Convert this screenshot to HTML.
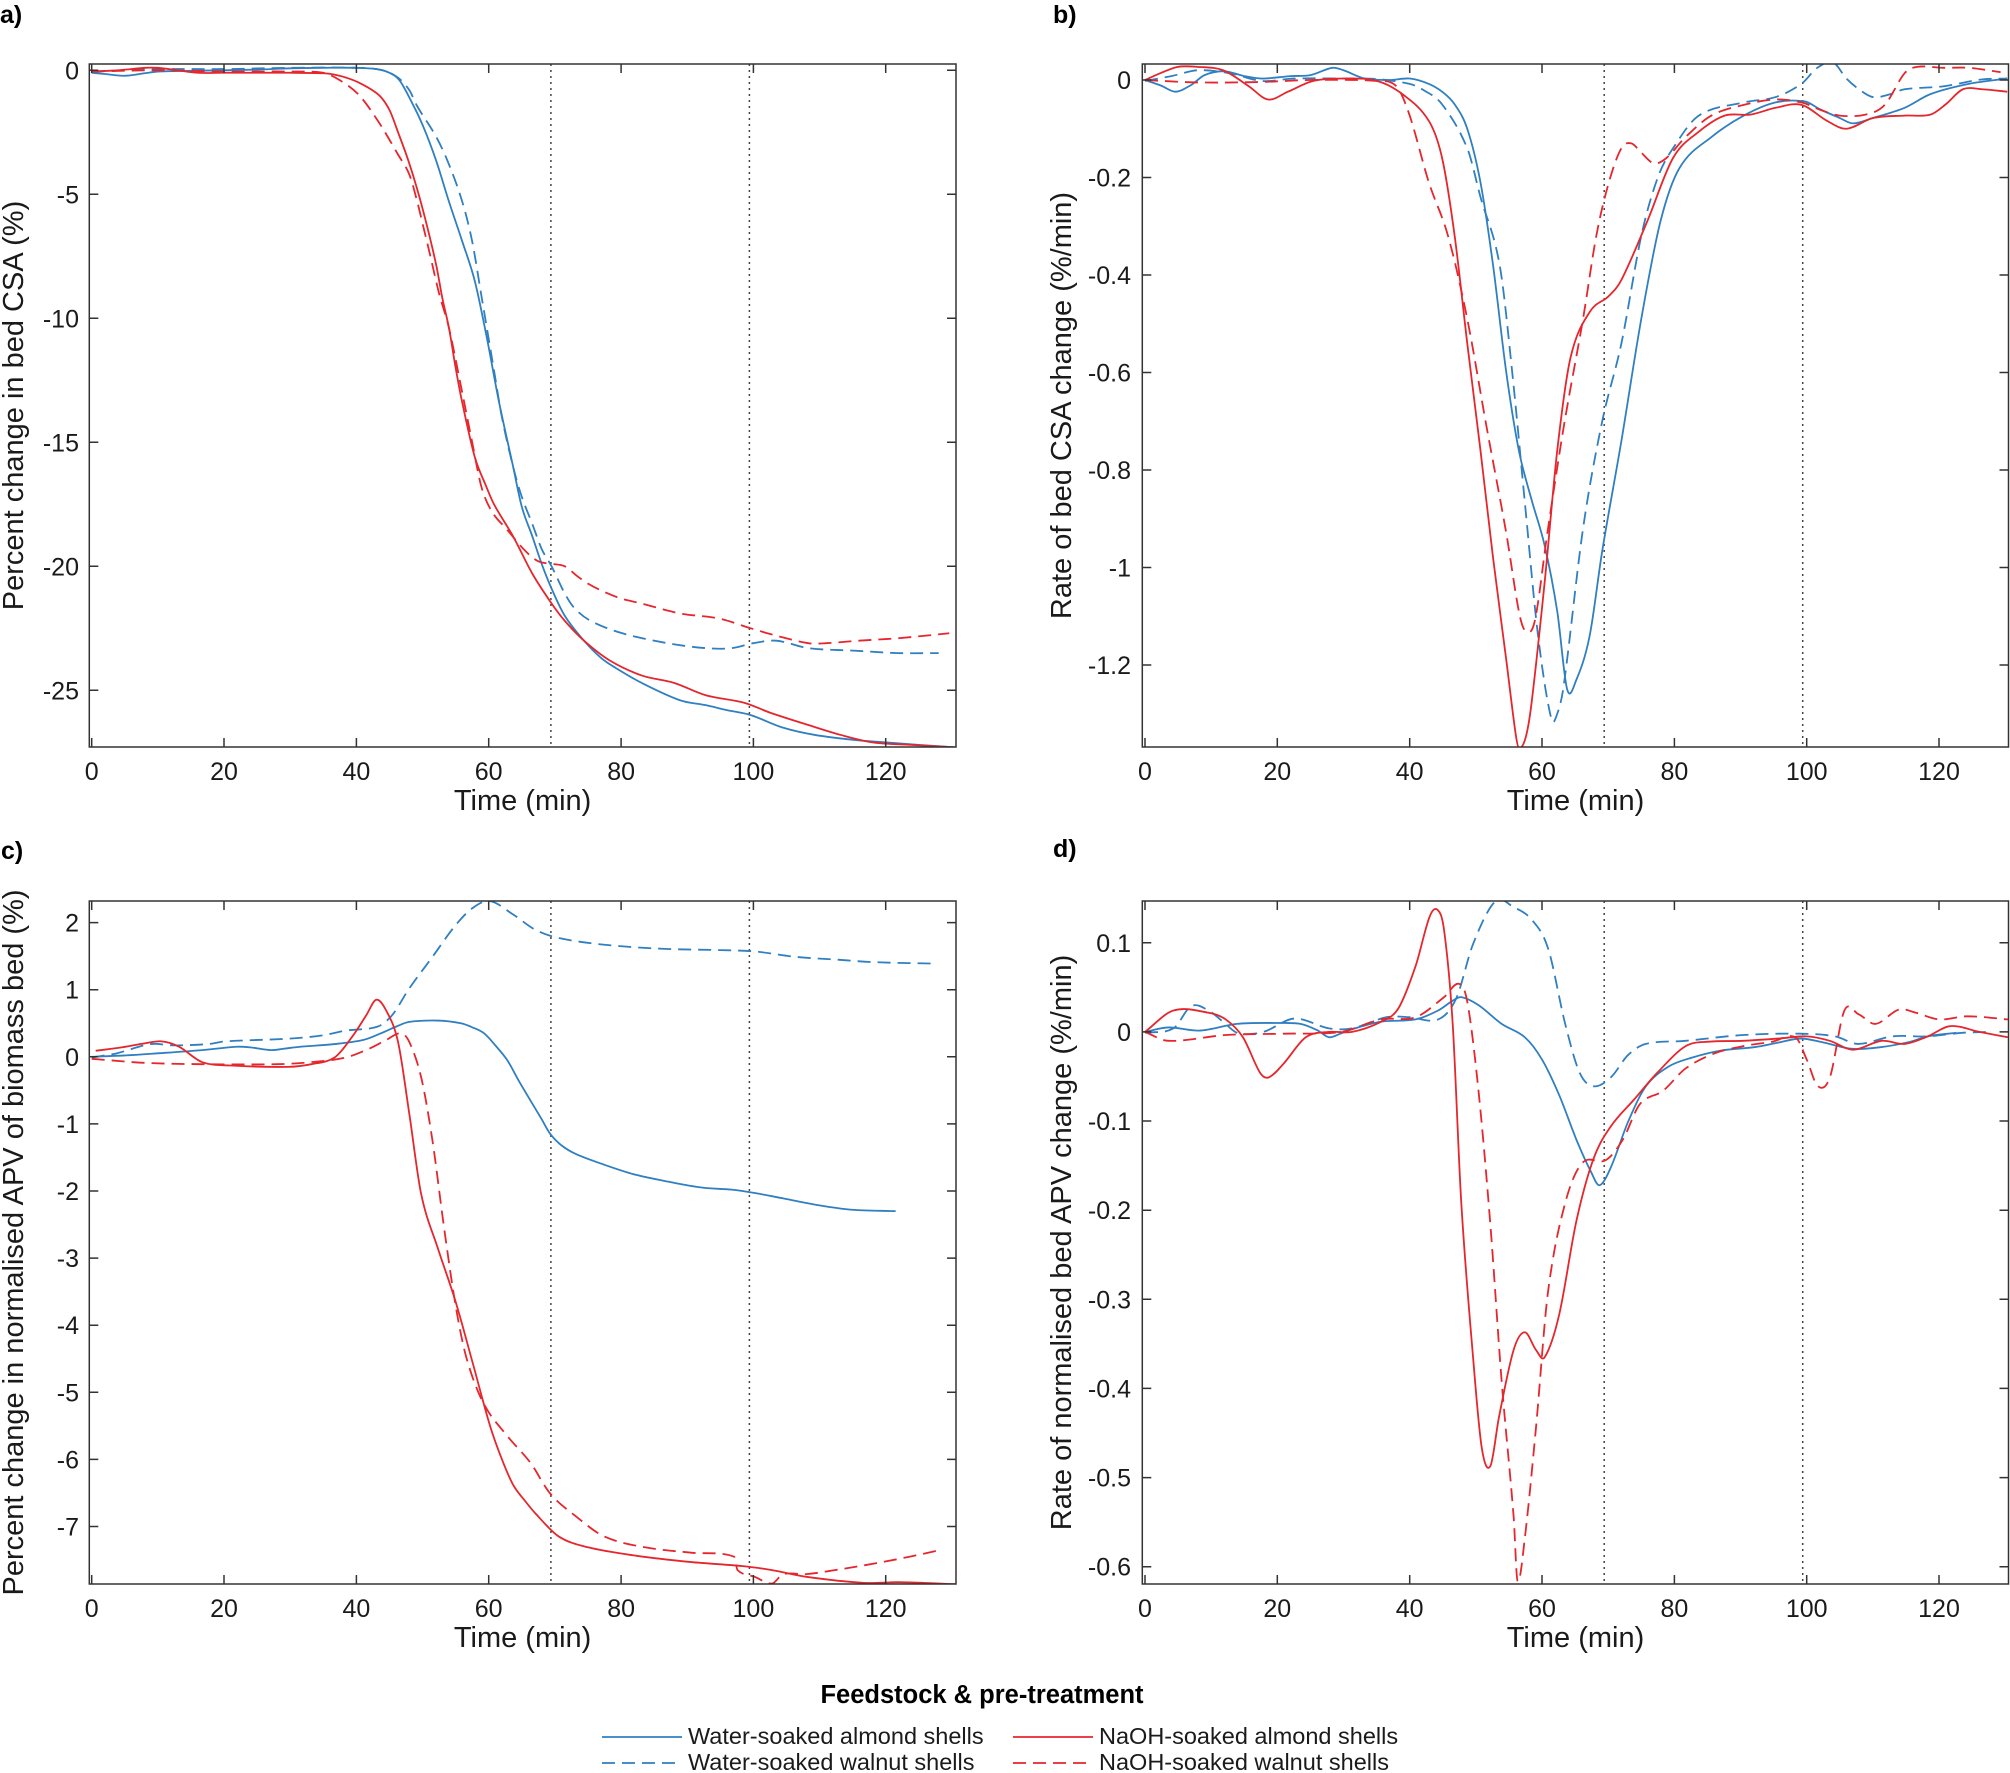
<!DOCTYPE html>
<html>
<head>
<meta charset="utf-8">
<style>
html,body{margin:0;padding:0;background:#fff;}
svg{display:block;}
text{font-family:"Liberation Sans",Arial,Helvetica,sans-serif;fill:#1a1a1a;}
.tk{font-size:25px;}
.lab{font-size:29px;}
.pl{font-size:25px;font-weight:bold;fill:#000;}
.ax{fill:none;stroke:#333;stroke-width:1.5;}
.dot{stroke:#444;stroke-width:1.5;stroke-dasharray:2 4;fill:none;}
.s{fill:none;stroke-width:1.8;vector-effect:non-scaling-stroke;stroke-linejoin:round;stroke-linecap:butt;}
.b{stroke:#2f7fc1;}
.r{stroke:#e5262c;}
.d{stroke-dasharray:13 7;}
.leg{font-size:23.5px;}
</style>
</head>
<body>
<svg id="fig" width="2010" height="1773" viewBox="0 0 2010 1773" xmlns="http://www.w3.org/2000/svg">
<defs>
<clipPath id="ca"><rect x="89.3" y="64" width="866.7" height="683"/></clipPath>
<clipPath id="cb"><rect x="1142.3" y="64" width="866.2" height="683"/></clipPath>
<clipPath id="cc"><rect x="89.3" y="901" width="866.7" height="683"/></clipPath>
<clipPath id="cd"><rect x="1142.3" y="901" width="866.2" height="683"/></clipPath>
</defs>

<!-- panel labels -->
<text class="pl" x="0" y="23">a)</text>
<text class="pl" x="1053" y="23">b)</text>
<text class="pl" x="1" y="859">c)</text>
<text class="pl" x="1053" y="857">d)</text>

<!-- ================= PANEL A ================= -->
<line class="dot" x1="550.9" y1="64" x2="550.9" y2="747"/>
<line class="dot" x1="749.4" y1="64" x2="749.4" y2="747"/>
<g clip-path="url(#ca)">
<g transform="translate(91.7,70.3) scale(6.617,-24.8)">
<polyline class="s b" points="0,-0.1 2,-0.15 5,-0.22 8,-0.12 10,-0.05 15,-0.02 20,0 25,0.03 30,0.08 35,0.1 40,0.1 43,0.05 45,-0.1 46.5,-0.4 48.2,-1.2 50,-2.2 52,-3.6 54,-5.3 56,-6.9 57.9,-8.5 59.8,-10.9 61.5,-13.3 63.7,-16 65,-17.6 66.6,-18.8 68,-19.9 69.5,-20.9 71.5,-22 74.4,-23 77,-23.7 79.2,-24.1 83.1,-24.7 88.9,-25.4 92.8,-25.6 96,-25.8 99.6,-26 104.4,-26.5 109.3,-26.8 115.1,-27 120,-27.1 125,-27.2 130.6,-27.3"/>
<polyline class="s b d" points="0,-0.05 5,0 10,0.05 20,0.05 30,0.1 40,0.1 44,0 46.3,-0.3 48,-0.8 49.2,-1.45 52.1,-2.7 54,-3.8 56,-5.3 57.5,-6.9 58.9,-9.1 60.8,-12.1 62,-14 63.7,-16 65,-17.2 66.6,-18.3 68,-19.3 69.5,-20 71.5,-21.1 73,-21.7 75.4,-22.2 80.2,-22.7 87,-23.1 92.8,-23.3 96.7,-23.3 100,-23.1 103.5,-23 108.3,-23.3 115.1,-23.4 121.9,-23.5 128,-23.5"/>
<polyline class="s r" points="0,-0.05 4,0 8,0.1 10,0.1 13,0 16,-0.1 20,-0.1 30,-0.1 35,-0.12 36.6,-0.17 38.5,-0.3 40.4,-0.5 43.4,-1 45,-1.6 46.3,-2.5 47.8,-3.6 49.2,-4.8 50.7,-6.3 52.1,-7.9 53,-9.2 54,-10.4 55,-12 56,-13.4 57.9,-15.6 59.5,-16.7 60.8,-17.5 63.7,-18.8 66.6,-20.3 69.5,-21.5 71.5,-22.2 74.4,-23 78.3,-23.8 83.1,-24.4 88,-24.7 92.8,-25.2 98.6,-25.5 102.5,-25.9 108.3,-26.4 113.2,-26.8 118,-27.1 123.8,-27.2 130.6,-27.3"/>
<polyline class="s r d" points="0,-0.05 10,0 20,-0.05 30,-0.05 35,-0.1 37.5,-0.4 40.4,-1 43.4,-2.1 46.3,-3.4 48,-4.2 49.2,-5.3 50.2,-6.4 51.1,-7.4 52.5,-9 54,-10.4 56,-13 57.5,-15 58.9,-16.8 60.5,-17.8 62.7,-18.5 65.6,-19.4 67.5,-19.8 69.5,-19.9 71.5,-20 73.4,-20.4 75,-20.7 77.2,-21 80,-21.3 83.1,-21.5 88.9,-21.9 94.7,-22.1 99.6,-22.5 103.5,-22.8 108.3,-23.1 111,-23.1 115.9,-23 121.9,-22.9 129.6,-22.7"/>
</g></g>
<rect class="ax" x="89.3" y="64" width="866.7" height="683"/>
<path class="ax" d="M91.7 747v-9M224 747v-9M356.4 747v-9M488.7 747v-9M621.1 747v-9M753.4 747v-9M885.7 747v-9M91.7 64v9M224 64v9M356.4 64v9M488.7 64v9M621.1 64v9M753.4 64v9M885.7 64v9M89.3 70.3h9M89.3 194.3h9M89.3 318.3h9M89.3 442.3h9M89.3 566.3h9M89.3 690.3h9M956 70.3h-9M956 194.3h-9M956 318.3h-9M956 442.3h-9M956 566.3h-9M956 690.3h-9"/>
<g class="tk" text-anchor="end">
<text x="79" y="79.3">0</text>
<text x="79" y="203.3">-5</text>
<text x="79" y="327.3">-10</text>
<text x="79" y="451.3">-15</text>
<text x="79" y="575.3">-20</text>
<text x="79" y="699.3">-25</text>
</g>
<g class="tk" text-anchor="middle">
<text x="91.7" y="780">0</text>
<text x="224" y="780">20</text>
<text x="356.4" y="780">40</text>
<text x="488.7" y="780">60</text>
<text x="621.1" y="780">80</text>
<text x="753.4" y="780">100</text>
<text x="885.7" y="780">120</text>
</g>
<text class="lab" x="522.6" y="810" text-anchor="middle">Time (min)</text>
<text class="lab" transform="translate(23,405.5) rotate(-90)" text-anchor="middle">Percent change in bed CSA (%)</text>

<!-- ================= PANEL B ================= -->
<line class="dot" x1="1604.2" y1="64" x2="1604.2" y2="747"/>
<line class="dot" x1="1802.7" y1="64" x2="1802.7" y2="747"/>
<g clip-path="url(#cb)">
<g transform="translate(1145,80) scale(6.617,-487.5)">
<polyline class="s b" points="0,0 2.5,-0.012 4.6,-0.024 7,-0.01 9,0.01 12,0.018 15,0.008 17.7,0.003 22,0.008 25,0.01 28.3,0.025 30,0.02 33.2,0.003 37,0 40,0.003 42.9,-0.008 45,-0.025 46.8,-0.05 48.7,-0.1 50.7,-0.21 52.6,-0.38 54.6,-0.6 56.5,-0.76 58.4,-0.86 60.4,-0.955 62.3,-1.09 63.8,-1.25 65.2,-1.23 67.2,-1.14 69.1,-0.966 72,-0.74 75,-0.49 77.9,-0.29 80.8,-0.18 85.6,-0.117 90.5,-0.073 95.3,-0.046 99.7,-0.044 102,-0.06 105,-0.078 107,-0.089 110,-0.078 114.8,-0.057 118.7,-0.029 124.5,-0.008 130.3,0.003"/>
<polyline class="s b d" points="0,-0.002 4,0.008 8,0.02 12.8,0.014 17.7,-0.002 22.5,0.003 30,0.003 35,0.002 40,-0.008 42,-0.02 44.9,-0.05 48.7,-0.14 50.7,-0.24 53.6,-0.38 55.5,-0.6 57.5,-0.88 59.4,-1.14 61.4,-1.31 62.3,-1.3 63.3,-1.24 66.2,-0.92 69.1,-0.7 72,-0.54 75,-0.32 77.5,-0.2 79.8,-0.14 83.7,-0.073 90.5,-0.046 95.3,-0.035 99.2,-0.008 101.6,0.025 104,0.036 106,0.003 108,-0.02 110,-0.035 112.4,-0.03 114.8,-0.019 120.6,-0.013 126.4,0.001 130.3,0.003"/>
<polyline class="s r" points="0,0 2.5,0.015 5,0.027 7.9,0.027 11.8,0.02 15.7,-0.013 18.6,-0.04 21.6,-0.024 25.4,-0.002 30.3,0.003 35.1,-0.002 39,-0.03 42.9,-0.084 44.9,-0.16 46.8,-0.32 48.7,-0.54 50.7,-0.76 52.6,-0.98 54.6,-1.19 56,-1.34 56.5,-1.37 57.5,-1.35 58.4,-1.28 60.4,-1.03 62.3,-0.76 64.3,-0.57 67.2,-0.476 70.1,-0.443 72,-0.41 75.9,-0.29 79.8,-0.16 83.7,-0.106 87.6,-0.073 91.5,-0.071 95.3,-0.057 99.2,-0.051 103.1,-0.084 106,-0.1 110,-0.078 114.8,-0.073 118.7,-0.071 121,-0.05 123.6,-0.019 126.5,-0.019 130.3,-0.024"/>
<polyline class="s r d" points="0,0 8,-0.005 17.7,-0.004 25,0 35.1,-0.002 38,-0.013 40,-0.073 42.9,-0.21 45.8,-0.32 48.7,-0.49 51.6,-0.71 54.6,-0.93 56.5,-1.09 57.5,-1.13 58.9,-1.11 60.8,-0.93 63.3,-0.71 66.2,-0.49 68.2,-0.32 70.1,-0.21 72,-0.14 73.5,-0.13 75,-0.149 76.9,-0.171 78.8,-0.16 81.7,-0.117 85.6,-0.073 90.5,-0.051 95.3,-0.04 99.2,-0.046 102.2,-0.062 105,-0.073 108.9,-0.071 111.8,-0.051 114.8,0.014 116.7,0.027 120.6,0.025 124.5,0.025 129.3,0.016"/>
</g></g>
<rect class="ax" x="1142.3" y="64" width="866.2" height="683"/>
<path class="ax" d="M1145 747v-9M1277.3 747v-9M1409.7 747v-9M1542 747v-9M1674.4 747v-9M1806.7 747v-9M1939 747v-9M1145 64v9M1277.3 64v9M1409.7 64v9M1542 64v9M1674.4 64v9M1806.7 64v9M1939 64v9M1142.3 80h9M1142.3 177.5h9M1142.3 275h9M1142.3 372.5h9M1142.3 470h9M1142.3 567.5h9M1142.3 665h9M2008.5 80h-9M2008.5 177.5h-9M2008.5 275h-9M2008.5 372.5h-9M2008.5 470h-9M2008.5 567.5h-9M2008.5 665h-9"/>
<g class="tk" text-anchor="end">
<text x="1131" y="89">0</text>
<text x="1131" y="186.5">-0.2</text>
<text x="1131" y="284">-0.4</text>
<text x="1131" y="381.5">-0.6</text>
<text x="1131" y="479">-0.8</text>
<text x="1131" y="576.5">-1</text>
<text x="1131" y="674">-1.2</text>
</g>
<g class="tk" text-anchor="middle">
<text x="1145" y="780">0</text>
<text x="1277.3" y="780">20</text>
<text x="1409.7" y="780">40</text>
<text x="1542" y="780">60</text>
<text x="1674.4" y="780">80</text>
<text x="1806.7" y="780">100</text>
<text x="1939" y="780">120</text>
</g>
<text class="lab" x="1575.5" y="810" text-anchor="middle">Time (min)</text>
<text class="lab" transform="translate(1071,405.5) rotate(-90)" text-anchor="middle">Rate of bed CSA change (%/min)</text>

<!-- ================= PANEL C ================= -->
<line class="dot" x1="550.9" y1="901" x2="550.9" y2="1584"/>
<line class="dot" x1="749.4" y1="901" x2="749.4" y2="1584"/>
<g clip-path="url(#cc)">
<g transform="translate(91.7,1056.8) scale(6.617,-67.1)">
<polyline class="s b" points="0,0 5,0.02 9.7,0.05 16.7,0.1 21.9,0.15 24,0.14 27.1,0.1 29,0.12 31.5,0.15 36.7,0.19 41,0.25 43.7,0.35 46,0.45 48,0.52 52.3,0.54 55.8,0.5 57.5,0.44 59.3,0.35 61,0.17 62.8,-0.05 64.5,-0.35 66.3,-0.65 68,-0.93 69.3,-1.15 71,-1.32 73.2,-1.45 77.5,-1.61 81.9,-1.75 87.1,-1.86 92.3,-1.95 96.7,-1.98 100.2,-2.03 104.5,-2.11 109.7,-2.21 114.9,-2.28 121.5,-2.3"/>
<polyline class="s b d" points="0,-0.01 3.7,0.05 8.9,0.19 12.3,0.17 17.6,0.19 20.2,0.23 29.7,0.27 34.9,0.32 38.4,0.39 43.2,0.45 45.4,0.62 48,1.02 51.5,1.49 54.9,1.95 57.6,2.22 60.2,2.32 63.7,2.12 67.1,1.89 70.6,1.77 77.5,1.67 86.2,1.61 94.9,1.59 100.2,1.57 106.3,1.49 112.3,1.45 118.4,1.41 127.1,1.39"/>
<polyline class="s r" points="0.6,0.09 4.5,0.14 8,0.2 10.6,0.23 13.2,0.15 16.7,-0.08 21,-0.13 29.7,-0.15 33.2,-0.11 36.7,-0.01 39.3,0.29 41.5,0.62 43,0.85 44.5,0.69 46.3,0.22 48,-0.85 49.8,-2.05 52.3,-2.85 55,-3.65 57.6,-4.57 60.2,-5.5 62,-6 63.7,-6.38 65.5,-6.62 67.1,-6.81 70.6,-7.15 75,-7.31 81.9,-7.43 90.6,-7.53 98.4,-7.59 102.8,-7.65 108,-7.75 116.7,-7.84 121.9,-7.83 128,-7.85 130.6,-7.86"/>
<polyline class="s r d" points="0,-0.03 8,-0.09 16.7,-0.11 28,-0.11 33.2,-0.08 38.4,-0.01 41.9,0.12 44.5,0.25 46.7,0.35 48,0.22 49.8,-0.31 51.5,-1.25 53.2,-2.51 55,-3.71 56.7,-4.51 59.3,-5.18 62.8,-5.65 66.3,-6.05 69.3,-6.51 73.2,-6.85 77.5,-7.15 83.6,-7.31 90.6,-7.39 97.1,-7.45 97.6,-7.65 100.2,-7.75 102.8,-7.85 104.5,-7.71 108,-7.71 112.3,-7.65 118.4,-7.55 123.6,-7.45 128.3,-7.35"/>
</g></g>
<rect class="ax" x="89.3" y="901" width="866.7" height="683"/>
<path class="ax" d="M91.7 1584v-9M224 1584v-9M356.4 1584v-9M488.7 1584v-9M621.1 1584v-9M753.4 1584v-9M885.7 1584v-9M91.7 901v9M224 901v9M356.4 901v9M488.7 901v9M621.1 901v9M753.4 901v9M885.7 901v9M89.3 922.6h9M89.3 989.7h9M89.3 1056.8h9M89.3 1123.9h9M89.3 1191h9M89.3 1258.1h9M89.3 1325.2h9M89.3 1392.3h9M89.3 1459.4h9M89.3 1526.5h9M956 922.6h-9M956 989.7h-9M956 1056.8h-9M956 1123.9h-9M956 1191h-9M956 1258.1h-9M956 1325.2h-9M956 1392.3h-9M956 1459.4h-9M956 1526.5h-9"/>
<g class="tk" text-anchor="end">
<text x="79" y="931.6">2</text>
<text x="79" y="998.7">1</text>
<text x="79" y="1065.8">0</text>
<text x="79" y="1132.9">-1</text>
<text x="79" y="1200">-2</text>
<text x="79" y="1267.1">-3</text>
<text x="79" y="1334.2">-4</text>
<text x="79" y="1401.3">-5</text>
<text x="79" y="1468.4">-6</text>
<text x="79" y="1535.5">-7</text>
</g>
<g class="tk" text-anchor="middle">
<text x="91.7" y="1617">0</text>
<text x="224" y="1617">20</text>
<text x="356.4" y="1617">40</text>
<text x="488.7" y="1617">60</text>
<text x="621.1" y="1617">80</text>
<text x="753.4" y="1617">100</text>
<text x="885.7" y="1617">120</text>
</g>
<text class="lab" x="522.6" y="1647" text-anchor="middle">Time (min)</text>
<text class="lab" transform="translate(23,1242.5) rotate(-90)" text-anchor="middle">Percent change in normalised APV of biomass bed (%)</text>

<!-- ================= PANEL D ================= -->
<line class="dot" x1="1604.2" y1="901" x2="1604.2" y2="1584"/>
<line class="dot" x1="1802.7" y1="901" x2="1802.7" y2="1584"/>
<g clip-path="url(#cd)">
<g transform="translate(1145,1031.9) scale(6.617,-891.3)">
<polyline class="s b" points="0,0 3.5,0.005 8.3,0.0015 13.9,0.009 20,0.01 23.5,0.009 26,0.002 27.8,-0.006 29.5,-0.002 31.3,0.003 35.7,0.0115 40.9,0.014 44.3,0.024 46.5,0.035 47.8,0.039 50.4,0.03 53.9,0.009 57.4,-0.006 60,-0.031 62.6,-0.071 65.2,-0.121 67.4,-0.157 68.7,-0.172 70.4,-0.152 73,-0.101 75.7,-0.061 79.1,-0.039 82.6,-0.029 87,-0.021 92.2,-0.017 95.7,-0.012 99.1,-0.0075 102.6,-0.012 106.9,-0.019 111.3,-0.017 115.7,-0.011 118.3,-0.005 122.6,-0.001"/>
<polyline class="s b d" points="0,-0.001 4.3,0.004 7,0.029 9.6,0.024 12,0.01 13.9,-0.001 16.5,-0.002 18.3,0.001 22.6,0.015 27.8,0.004 31.3,0.004 36.5,0.0165 40,0.0165 44.3,0.014 47,0.037 49.6,0.099 53,0.147 55.7,0.14 58.3,0.127 60.9,0.094 63.5,0.009 65.7,-0.046 67.8,-0.061 70.4,-0.051 73,-0.026 75.7,-0.0135 81.7,-0.01 90.4,-0.0035 99.1,-0.002 104.3,-0.005 107.8,-0.0135 113,-0.005 118.3,-0.005 123.5,-0.001 127.8,0"/>
<polyline class="s r" points="0,0 4.3,0.024 9.6,0.0215 12.2,0.014 14.8,-0.006 17.4,-0.046 18.7,-0.051 20.9,-0.036 24.3,-0.006 27.8,0 31.3,0 35.7,0.0115 38.3,0.0265 40.9,0.074 43,0.129 44.2,0.137 45.2,0.114 46.5,0.009 47.8,-0.192 49.6,-0.367 50.9,-0.467 52.2,-0.487 53.5,-0.432 55.7,-0.357 57.4,-0.337 59.1,-0.357 60.4,-0.365 62.6,-0.317 65.2,-0.212 67.8,-0.142 70.4,-0.106 73.9,-0.076 77.4,-0.046 81.7,-0.016 85.2,-0.011 90.4,-0.01 95.7,-0.0075 100,-0.005 103.5,-0.01 107,-0.02 111.3,-0.01 114.8,-0.0135 118.3,-0.005 121.7,0.0065 126.1,0 130.4,-0.006"/>
<polyline class="s r d" points="0,0 3.5,-0.01 12.2,-0.0035 20.9,-0.002 29.6,0 35.7,0.014 40.9,0.0165 45.2,0.039 47.4,0.054 48.7,0.034 50.4,-0.066 52.2,-0.217 53.9,-0.392 55.7,-0.543 56.3,-0.616 57.4,-0.568 59.1,-0.443 60.9,-0.292 63.5,-0.192 66.1,-0.147 69.6,-0.144 72.2,-0.121 74.8,-0.081 78.3,-0.066 81.7,-0.041 86.1,-0.024 90.4,-0.016 94.8,-0.011 98.3,-0.006 100,-0.031 101.7,-0.061 103.5,-0.051 105.7,0.024 107.8,0.02 110.4,0.009 113.9,0.025 116.5,0.0215 120,0.014 124.3,0.0175 130.4,0.014"/>
</g></g>
<rect class="ax" x="1142.3" y="901" width="866.2" height="683"/>
<path class="ax" d="M1145 1584v-9M1277.3 1584v-9M1409.7 1584v-9M1542 1584v-9M1674.4 1584v-9M1806.7 1584v-9M1939 1584v-9M1145 901v9M1277.3 901v9M1409.7 901v9M1542 901v9M1674.4 901v9M1806.7 901v9M1939 901v9M1142.3 942.8h9M1142.3 1031.9h9M1142.3 1121h9M1142.3 1210.2h9M1142.3 1299.3h9M1142.3 1388.4h9M1142.3 1477.6h9M1142.3 1566.7h9M2008.5 942.8h-9M2008.5 1031.9h-9M2008.5 1121h-9M2008.5 1210.2h-9M2008.5 1299.3h-9M2008.5 1388.4h-9M2008.5 1477.6h-9M2008.5 1566.7h-9"/>
<g class="tk" text-anchor="end">
<text x="1131" y="951.8">0.1</text>
<text x="1131" y="1040.9">0</text>
<text x="1131" y="1130">-0.1</text>
<text x="1131" y="1219.2">-0.2</text>
<text x="1131" y="1308.3">-0.3</text>
<text x="1131" y="1397.4">-0.4</text>
<text x="1131" y="1486.6">-0.5</text>
<text x="1131" y="1575.7">-0.6</text>
</g>
<g class="tk" text-anchor="middle">
<text x="1145" y="1617">0</text>
<text x="1277.3" y="1617">20</text>
<text x="1409.7" y="1617">40</text>
<text x="1542" y="1617">60</text>
<text x="1674.4" y="1617">80</text>
<text x="1806.7" y="1617">100</text>
<text x="1939" y="1617">120</text>
</g>
<text class="lab" x="1575.5" y="1647" text-anchor="middle">Time (min)</text>
<text class="lab" transform="translate(1071,1242.5) rotate(-90)" text-anchor="middle">Rate of normalised bed APV change (%/min)</text>

<!-- ================= LEGEND ================= -->
<text x="982" y="1703" text-anchor="middle" style="font-size:25.5px;font-weight:bold;fill:#000;">Feedstock &amp; pre-treatment</text>
<line x1="602" y1="1737" x2="682" y2="1737" stroke="#2f7fc1" stroke-width="1.8"/>
<text class="leg" x="688" y="1744">Water-soaked almond shells</text>
<line x1="602" y1="1763" x2="682" y2="1763" stroke="#2f7fc1" stroke-width="1.8" stroke-dasharray="13 7"/>
<text class="leg" x="688" y="1770">Water-soaked walnut shells</text>
<line x1="1013" y1="1737" x2="1093" y2="1737" stroke="#e5262c" stroke-width="1.8"/>
<text class="leg" x="1099" y="1744">NaOH-soaked almond shells</text>
<line x1="1013" y1="1763" x2="1093" y2="1763" stroke="#e5262c" stroke-width="1.8" stroke-dasharray="13 7"/>
<text class="leg" x="1099" y="1770">NaOH-soaked walnut shells</text>
</svg>
<script>
(function(){
  try{
    var pls=document.querySelectorAll('#fig polyline');
    for(var i=0;i<pls.length;i++){
      var pl=pls[i];
      var raw=pl.getAttribute('points').trim().split(/\s+/);
      var p=[];
      for(var j=0;j<raw.length;j++){var c=raw[j].split(',');p.push([parseFloat(c[0]),parseFloat(c[1])]);}
      if(p.length<3)continue;
      var d='M'+p[0][0]+' '+p[0][1];
      for(var k=0;k<p.length-1;k++){
        var p0=p[k>0?k-1:k],p1=p[k],p2=p[k+1],p3=p[k+2<p.length?k+2:k+1];
        var dx1=p2[0]-p0[0],dy1=p2[1]-p0[1],dx2=p3[0]-p1[0],dy2=p3[1]-p1[1];
        var h=p2[0]-p1[0];
        var s1=(p2[0]-p0[0])>0?h/(p2[0]-p0[0]):0.5;
        var s2=(p3[0]-p1[0])>0?h/(p3[0]-p1[0]):0.5;
        var c1x=p1[0]+dx1*s1/3,c1y=p1[1]+dy1*s1/3;
        var c2x=p2[0]-dx2*s2/3,c2y=p2[1]-dy2*s2/3;
        d+='C'+c1x+' '+c1y+' '+c2x+' '+c2y+' '+p2[0]+' '+p2[1];
      }
      var path=document.createElementNS('http://www.w3.org/2000/svg','path');
      path.setAttribute('d',d);
      path.setAttribute('class',pl.getAttribute('class'));
      pl.parentNode.replaceChild(path,pl);
    }
  }catch(e){}
})();
</script>
</body>
</html>
